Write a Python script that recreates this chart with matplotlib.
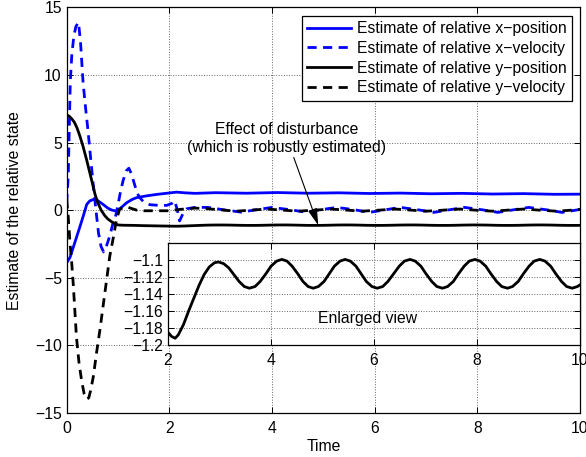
import matplotlib
matplotlib.use('Agg')
import matplotlib.pyplot as plt

plt.rcParams['font.family'] = ['Liberation Sans', 'DejaVu Sans']
plt.rcParams['font.size'] = 11.3
plt.rcParams['axes.unicode_minus'] = True

labels = ['Estimate of relative x\u2212position',
          'Estimate of relative x\u2212velocity',
          'Estimate of relative y\u2212position',
          'Estimate of relative y\u2212velocity']

# relative x-position (blue solid)
t_xpos = [0, 0.065, 0.15, 0.26, 0.33, 0.39, 0.45, 0.52, 0.6, 0.71, 0.8, 0.88,
          0.97, 1.05, 1.17, 1.27, 1.36, 1.55, 1.75, 2.0, 2.14, 2.3, 2.5, 2.9,
          3.5, 4.1, 4.7, 5.3, 5.9, 6.5, 7.1, 7.7, 8.3, 8.9, 9.5, 10.0]
xpos = [-3.9, -3.5, -2.5, -1.2, -0.35, 0.42, 0.68, 0.79, 0.72, 0.42, 0.15, 0.0,
        -0.07, 0.15, 0.55, 0.78, 0.92, 1.05, 1.16, 1.27, 1.33, 1.28, 1.24, 1.29,
        1.25, 1.3, 1.25, 1.28, 1.23, 1.26, 1.21, 1.24, 1.19, 1.22, 1.17, 1.18]

# relative x-velocity (blue dashed)
t_xvel = [0, 0.03, 0.05, 0.07, 0.1, 0.14, 0.18, 0.23, 0.27, 0.32,
          0.37, 0.42, 0.47, 0.52, 0.57, 0.62, 0.67, 0.72, 0.78, 0.84,
          0.9, 0.95, 1.0, 1.05, 1.1, 1.16, 1.21, 1.26, 1.33, 1.38,
          1.43, 1.5, 1.62, 1.8, 1.95, 2.05, 2.1, 2.15, 2.2, 2.26,
          2.34, 2.5, 2.75, 3.1, 3.4, 3.7, 4.0, 4.35, 4.65, 4.95,
          5.26, 5.6, 5.9, 6.2, 6.5, 6.85, 7.15, 7.45, 7.75, 8.1,
          8.4, 8.7, 9.0, 9.35, 9.65, 10.0]
xvel = [0.5, 2.5, 6.0, 9.5, 11.5, 12.9, 13.6, 13.9, 12.4, 9.4,
        7.5, 5.7, 3.7, 1.8, 0.0, -1.7, -2.7, -3.1, -2.6, -1.9,
        -1.0, -0.5, 0.4, 1.4, 2.2, 2.9, 3.1, 2.7, 1.8, 1.2,
        0.9, 0.6, 0.4, 0.35, 0.35, 0.5, 0.7, 0.1, -0.8, -0.3,
        0.1, 0.2, 0.2, 0.0, -0.15, 0.03, 0.2, 0.03, -0.15, 0.03,
        0.2, 0.03, -0.17, 0.02, 0.2, 0.02, -0.17, 0.02, 0.2, 0.02,
        -0.17, 0.02, 0.2, 0.02, -0.17, 0.05]

# relative y-position (black solid), also shown in the enlarged view
t_ypos = [0, 0.05, 0.1, 0.15, 0.2, 0.26, 0.32, 0.39, 0.45, 0.5,
          0.55, 0.6, 0.67, 0.74, 0.8, 0.87, 0.94, 1.0, 1.1, 1.3,
          1.5, 1.7, 1.85, 2.0, 2.07, 2.14, 2.2, 2.3, 2.4, 2.5,
          2.6, 2.7, 2.8, 2.9,
          2.98, 3.08, 3.18, 3.28, 3.38, 3.48, 3.58, 3.69, 3.79, 3.90, 4.00, 4.11,
          4.21, 4.31, 4.41, 4.52, 4.62, 4.72, 4.82, 4.92, 5.03, 5.13, 5.23, 5.34,
          5.44, 5.54, 5.65, 5.75, 5.85, 5.96, 6.06, 6.17, 6.27, 6.38, 6.49, 6.59,
          6.70, 6.80, 6.91, 7.01, 7.12, 7.22, 7.33, 7.43, 7.54, 7.64, 7.75, 7.85,
          7.96, 8.06, 8.17, 8.27, 8.38, 8.48, 8.59, 8.69, 8.80, 8.90, 9.01, 9.11,
          9.22, 9.32, 9.43, 9.53, 9.64, 9.74, 9.85, 9.95, 10.0]
ypos = [7.05, 6.95, 6.75, 6.5, 6.1, 5.45, 4.7, 3.7, 2.77, 2.0,
        1.2, 0.6, 0.0, -0.4, -0.65, -0.85, -1.0, -1.1, -1.12, -1.13,
        -1.15, -1.165, -1.175, -1.185, -1.19, -1.192, -1.188, -1.176, -1.16, -1.145,
        -1.13, -1.117, -1.108, -1.103,
        -1.102, -1.104, -1.109, -1.117, -1.125, -1.131, -1.133, -1.131, -1.125, -1.116, -1.107, -1.101,
        -1.099, -1.101, -1.107, -1.116, -1.125, -1.131, -1.133, -1.131, -1.125, -1.116, -1.107, -1.101,
        -1.099, -1.101, -1.107, -1.116, -1.125, -1.131, -1.133, -1.131, -1.125, -1.116, -1.107, -1.101,
        -1.099, -1.101, -1.107, -1.116, -1.125, -1.131, -1.133, -1.131, -1.125, -1.116, -1.107, -1.101,
        -1.099, -1.101, -1.107, -1.116, -1.125, -1.131, -1.133, -1.131, -1.125, -1.116, -1.107, -1.101,
        -1.099, -1.101, -1.107, -1.116, -1.125, -1.131, -1.133, -1.131, -1.129]

# relative y-velocity (black dashed)
t_yvel = [0, 0.03, 0.06, 0.1, 0.13, 0.16, 0.19, 0.24, 0.29, 0.34,
          0.39, 0.43, 0.47, 0.52, 0.58, 0.65, 0.72, 0.78, 0.84, 0.91,
          0.97, 1.03, 1.1, 1.2, 1.36, 1.5, 1.75, 2.0, 2.2, 2.5,
          2.75, 3.05, 3.3, 3.6, 3.9, 4.2, 4.5, 4.85, 5.15, 5.45,
          5.75, 6.1, 6.4, 6.7, 7.0, 7.35, 7.65, 7.95, 8.3, 8.6,
          8.9, 9.2, 9.55, 9.85, 10.0]
yvel = [0.8, -0.5, -2.2, -4.0, -5.6, -7.5, -9.4, -11.3, -12.6, -13.6,
        -14.0, -13.9, -13.3, -12.3, -10.6, -8.8, -6.8, -5.1, -3.4, -2.0,
        -0.7, 0.05, 0.2, 0.2, 0.0, -0.05, -0.05, -0.05, 0.05, 0.15,
        0.1, 0.0, -0.08, 0.0, 0.08, 0.0, -0.08, 0.0, 0.08, 0.0,
        -0.08, 0.0, 0.08, 0.0, -0.08, 0.0, 0.08, 0.0, -0.08, 0.0,
        0.08, 0.0, -0.08, 0.0, 0.05]

inset_yticks = [-1.2, -1.18, -1.16, -1.14, -1.12, -1.1]
inset_yticklabels = ['\u22121.2', '\u22121.18', '\u22121.16', '\u22121.14', '\u22121.12', '\u22121.1']

fig = plt.figure(figsize=(5.86, 4.57), dpi=100)
ax = fig.add_axes([0.1138, 0.0969, 0.876, 0.8867])

lw = 2.0
dash = (3.3, 2.3)
ax.plot(t_xpos, xpos, color='b', lw=lw, label=labels[0])
ax.plot(t_xvel, xvel, color='b', lw=lw, ls=(0, dash), label=labels[1])
ax.plot(t_ypos, ypos, color='k', lw=lw, label=labels[2])
ax.plot(t_yvel, yvel, color='k', lw=lw, ls=(0, dash), label=labels[3])

ax.set_xlim(0, 10)
ax.set_ylim(-15, 15)
ax.set_xticks(range(0, 11, 2))
ax.set_yticks(range(-15, 16, 5))
ax.tick_params(direction='in', top=True, right=True, length=4, width=0.7)
ax.tick_params(axis='x', pad=6)
ax.tick_params(axis='y', pad=3.5)
ax.grid(True, ls=':', color='0.4', lw=0.7)
for s in ax.spines.values():
    s.set_linewidth(0.9)
ax.set_xlabel('Time', labelpad=2)
ax.set_ylabel('Estimate of the relative state', labelpad=9)

leg = ax.legend(loc='upper right', bbox_to_anchor=(0.985, 0.98), fancybox=False,
                framealpha=1, edgecolor='k', handlelength=2.8, handletextpad=0.38,
                labelspacing=0.3, borderpad=0.35, borderaxespad=0)
leg.get_frame().set_linewidth(0.9)

ax.annotate('Effect of disturbance\n(which is robustly estimated)',
            xy=(4.9, -1.12), xytext=(4.29, 4.1), ha='center', va='bottom',
            arrowprops=dict(arrowstyle='-|>,head_length=0.9,head_width=0.25',
                            color='k', lw=0.8, shrinkA=0, shrinkB=0))

ins = fig.add_axes([0.2867, 0.2451, 0.7031, 0.2225])
ins.plot(t_ypos, ypos, color='k', lw=lw, solid_joinstyle='round')
ins.set_xlim(2, 10)
ins.set_ylim(-1.2, -1.08)
ins.set_xticks(range(2, 11, 2))
ins.set_yticks(inset_yticks)
ins.set_yticklabels(inset_yticklabels)
ins.tick_params(direction='in', top=True, right=True, length=4, width=0.7)
ins.tick_params(axis='x', pad=6)
ins.tick_params(axis='y', pad=3.5)
ins.grid(True, ls=':', color='0.4', lw=0.7)
for s in ins.spines.values():
    s.set_linewidth(0.9)
ins.text(5.88, -1.169, 'Enlarged view', ha='center', va='center')

fig.savefig('out.png', dpi=100)
